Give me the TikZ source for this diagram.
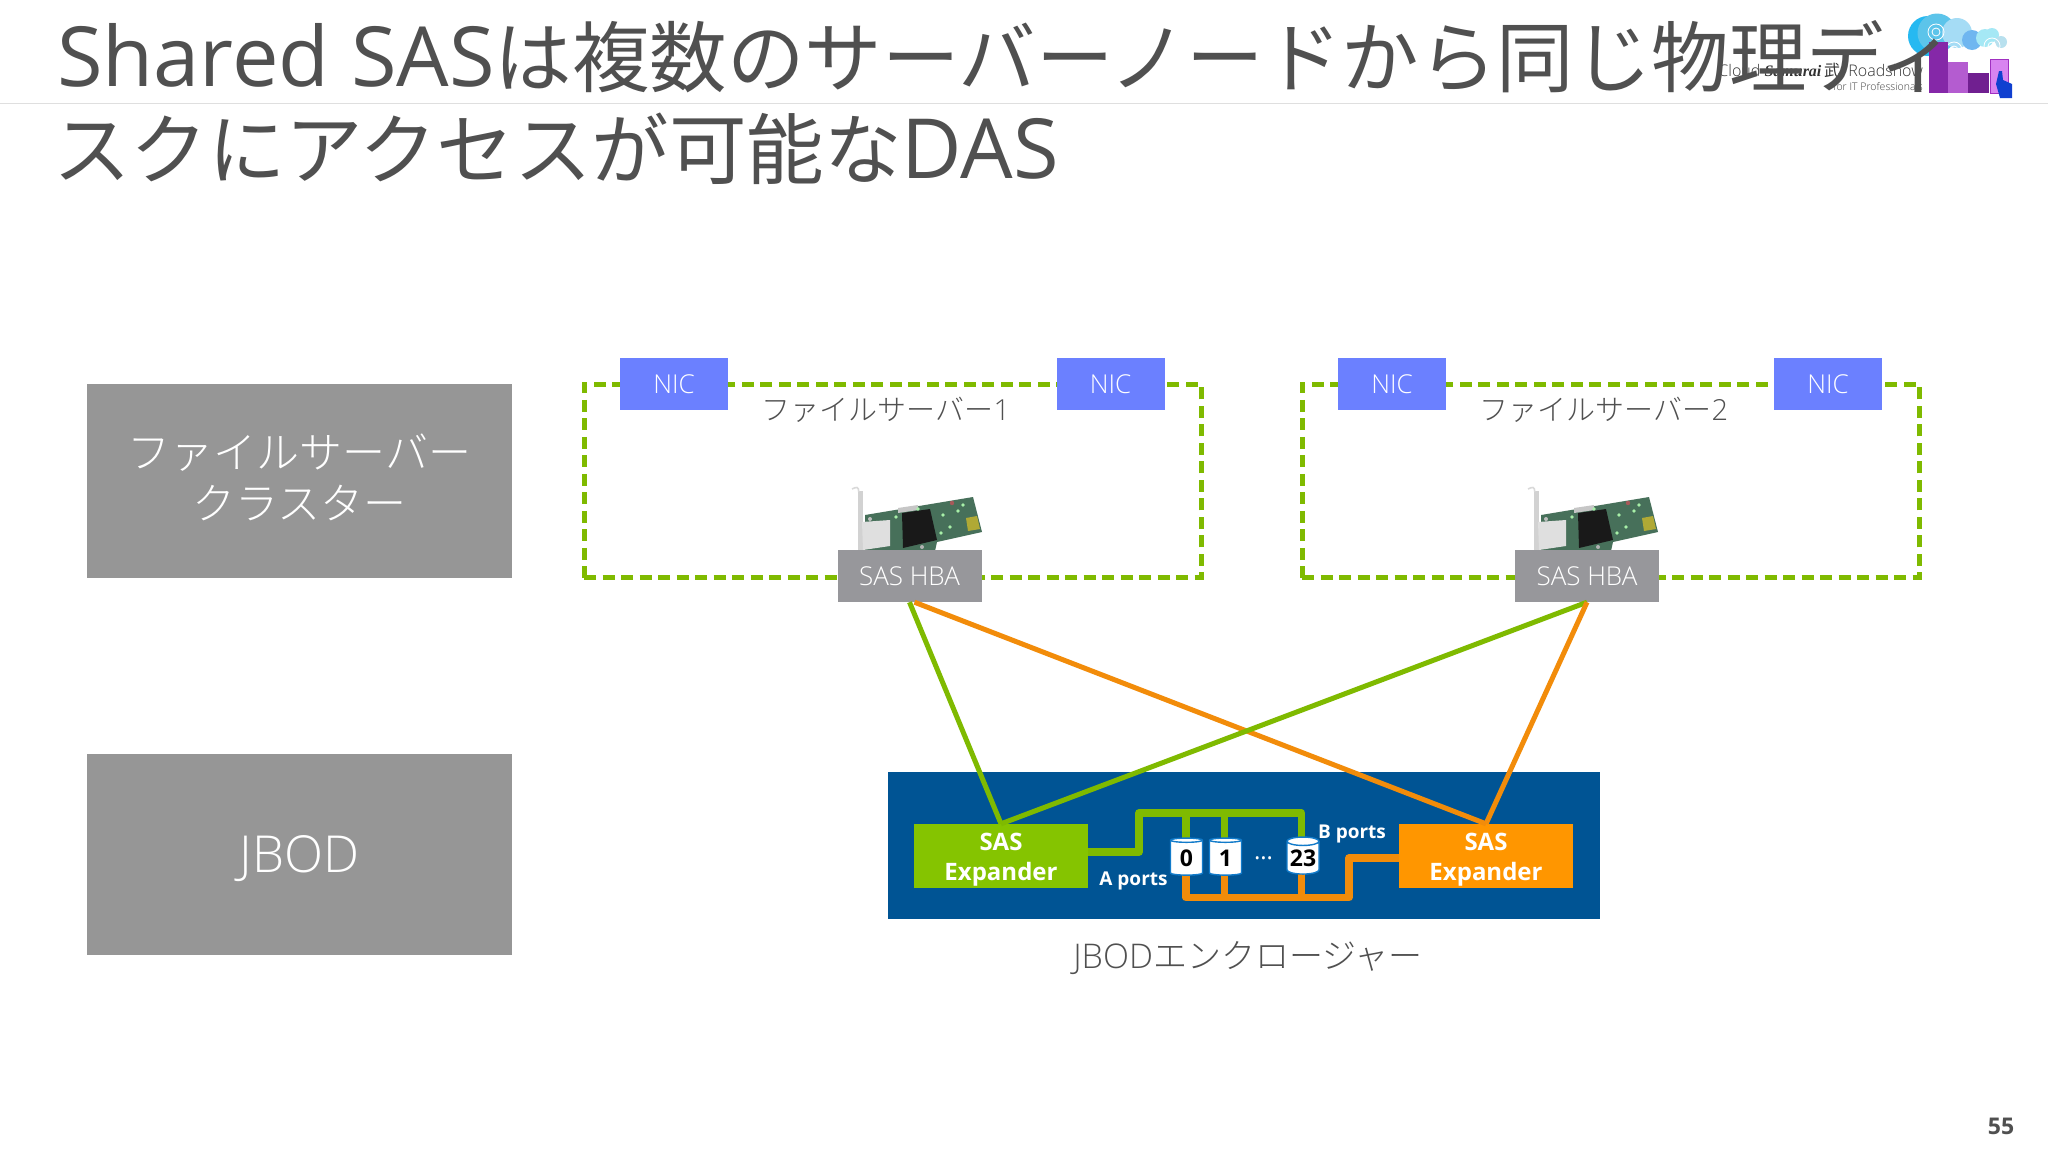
\documentclass[tikz,border=0pt]{standalone}
\usepackage{fontspec}
\setmainfont{Open Sans}
\newfontfamily\latl{Open Sans Light}
\newfontfamily\jpl{Noto Sans CJK JP Light}
\newfontfamily\jpn{Noto Sans CJK JP}
\newfontfamily\ser{Liberation Serif}
\usetikzlibrary{shapes.geometric}

\definecolor{ink}{HTML}{505050}
\definecolor{grn}{HTML}{7FBA00}
\definecolor{org}{HTML}{F28C0A}
\definecolor{grnbox}{HTML}{85C400}
\definecolor{orgbox}{HTML}{FF9600}
\definecolor{bluebox}{HTML}{005494}
\definecolor{nicblue}{HTML}{6B80FF}
\definecolor{sidegray}{HTML}{969696}
\definecolor{hbagray}{HTML}{97979B}
\definecolor{board}{HTML}{47705A}
\definecolor{cloudA}{HTML}{5CC4EA}
\definecolor{cloudB}{HTML}{A5DCF5}
\definecolor{cloudC}{HTML}{6FB6F0}
\definecolor{cloudD}{HTML}{A5E8F5}
\definecolor{cloudE}{HTML}{B8E0EE}
\definecolor{bldA}{HTML}{8528A8}
\definecolor{bldB}{HTML}{B45CD0}
\definecolor{bldC}{HTML}{701F90}
\definecolor{bldD}{HTML}{D884F0}
\definecolor{bldE}{HTML}{A030C0}
\definecolor{hand}{HTML}{1040D0}

\newcommand{\fs}[1]{\fontsize{#1}{#1}\selectfont}
% shifts a text without changing the size of its node
\newcommand{\shifted}[2]{\raisebox{#1}[\height][\depth]{#2}}

\tikzset{
  x=1pt, y=-1pt,
  title/.style={anchor=base west, inner sep=0pt, text=ink},
  side/.style={fill=sidegray, text=white, minimum width=424.5pt, align=center, inner sep=0pt, font=\jpl\fs{43}},
  server/.style={draw=grn, line width=5pt, dash pattern=on 12pt off 6.5pt, minimum width=617pt, minimum height=193.5pt, inner sep=0pt},
  nic/.style={fill=nicblue, text=white, minimum width=108pt, minimum height=52pt, inner sep=0pt, font=\latl\fs{26}},
  hba/.style={fill=hbagray, text=white, minimum width=144pt, minimum height=52pt, inner sep=0pt, font=\latl\fs{26}},
  label/.style={text=ink, inner sep=0pt},
  expander/.style={minimum width=174pt, minimum height=64pt, align=center, inner sep=0pt, text=white, font=\bfseries\fs{24}},
  bus/.style={line width=7.5pt, line join=round},
  link/.style={line width=5pt},
  disk/.style={cylinder, shape border rotate=90, aspect=0.32, draw=cyan!60!blue, line width=1.4pt, fill=white, minimum width=32pt, minimum height=37pt, inner sep=0pt, text=black, font=\bfseries\fs{23}},
  port/.style={text=white, inner sep=0pt, font=\bfseries\fs{19}},
  card/.pic={
    \fill[gray!35] (0,0) -- (5,0) -- (5,74) -- (0,74) -- cycle;
    \draw[gray!30, line width=1.6pt] (0.8,1) .. controls (0.8,-5) and (-2,-4) .. (-6,-2);
    \fill[board] (7,24) -- (115,6) -- (124,41) -- (79,51) -- (77,60) -- (42,63) -- (7,60) -- cycle;
    \fill[gray!25] (4,31) -- (32,29) -- (32,55) -- (5,59) -- cycle;
    \fill[black!90] (44,22) -- (72,18) -- (79,49) -- (45,57) -- cycle;
    \fill[gray!45] (40,17) -- (60,14) -- (60,19) -- (40,22) -- cycle;
    \fill[olive!70!white] (108,27) -- (119,25) -- (122,38) -- (110,40) -- cycle;
    \fill[olive!70!yellow] (42,63) -- (76,60) -- (75,64) -- (42,67) -- cycle;
    \foreach \p in {(85,24),(92,36),(100,20),(105,14),(83,42),(60,18),(38,26)}
      \fill[gray!30!green!40!white] \p circle (1.8);
    \fill[red!30!gray] (94,12) circle (2.2);
    \fill[gray!50] (12,28) circle (2);
    \fill[gray!60] (64,56) circle (2);
  }
}

\begin{document}
\begin{tikzpicture}
  \useasboundingbox (0,0) rectangle (2048,1152);
  \fill[white] (0,0) rectangle (2048,1152);
  \draw[gray!25, line width=1.2pt] (0,103.5) -- (2048,103.5);

  % logo
  \fill[cyan!85!white] (1928,36) circle (20);
  \fill[cloudA] (1937,33) circle (19.5);
  \fill[cloudB] (1957,33) circle (15);
  \fill[cloudC] (1972,40) circle (10);
  \fill[cloudD] (1985,38) circle (9);
  \fill[cloudD] (1992,35) circle (7);
  \fill[cloudE] (2001,42) circle (6);
  \foreach \c/\r in {{(1936,32)}/4,{(1936,32)}/8,{(1954,50)}/4,{(1954,50)}/8,{(1992,46)}/4,{(1992,46)}/8}
    \draw[white, line width=.8pt] \c circle (\r);
  \fill[bldA] (1929,42) rectangle (1948,93);
  \fill[bldB] (1948,62) rectangle (1968,93);
  \fill[bldC] (1968,73) rectangle (1989,93);
  \filldraw[fill=bldD, draw=bldE, line width=1pt] (1990,59) rectangle (2008,93);
  \fill[hand] (1999,71) -- (2002,71) -- (2003,80) -- (2012,84) -- (2012,98) -- (2000,98) -- (1996,84) -- cycle;
  \node[anchor=base east, inner sep=0pt, text=black!80] (logo1) at (1923,76)
    {\fs{16}\latl Cloud \ser\itshape\bfseries Samurai\jpn\upshape\mdseries\,武\latl\ \ Roadshow};
  \node[anchor=base east, inner sep=0pt, text=black!75, font=\latl\fs{10.5}] (logo2) at (1923,90) {for IT Professionals};

  % title
  \node[title] (t1) at (57,86) {\fs{83}Shared SAS\jpn\fs{77.5}は複数のサーバーノードから同じ物理ディ};
  \node[title] (t2) at (53,178) {\jpn\fs{77.5}スクにアクセスが可能な\rmfamily\fs{83}DAS};

  % left column
  \node[side, minimum height=194pt] (cluster) at (299.5,481) {\shifted{4pt}{ファイルサーバー}\\[8pt]\shifted{4pt}{クラスター}};
  \node[side, minimum height=201pt] (jbodside) at (299.5,854) {\shifted{-5pt}{\latl\fs{51}JBOD}};

  % servers
  \node[server] (srv1) at (892.5,481) {};
  \node[server] (srv2) at (1610.5,481) {};
  \node[nic] (nic1a) at (674,384) {NIC};
  \node[nic] (nic1b) at (1110.5,384) {NIC};
  \node[nic] (nic2a) at (1392,384) {NIC};
  \node[nic] (nic2b) at (1828,384) {NIC};
  \node[label, font=\jpl\fs{29}] (lab1) at (886,410) {ファイルサーバー\latl 1};
  \node[label, font=\jpl\fs{29}] (lab2) at (1604,410) {ファイルサーバー\latl 2};
  \pic at (858,491) {card};
  \pic at (1534,491) {card};
  \node[hba] (hba1) at (909.5,576) {SAS HBA};
  \node[hba] (hba2) at (1587,576) {SAS HBA};

  % enclosure
  \node[fill=bluebox, minimum width=712pt, minimum height=147pt, inner sep=0pt] (encl) at (1244,845.5) {};
  \node[expander, fill=grnbox] (expl) at (1001,856) {\shifted{-4pt}{SAS}\\[6pt]\shifted{-4pt}{Expander}};
  \node[expander, fill=orgbox] (expr) at (1486,856) {\shifted{-4pt}{SAS}\\[6pt]\shifted{-4pt}{Expander}};
  \node[label, font=\jpl\fs{34}] (encllab) at (1248,958) {\latl JBOD\jpl エンクロージャー};

  % links between HBA and expanders
  \draw[link, grn] (hba1.south) -- (expl.north);
  \draw[link, org] ([xshift=5pt]hba1.south) -- (expr.north);
  \draw[link, grn] (hba2.south) -- (expl.north);
  \draw[link, org] (hba2.south) -- (expr.north);

  % disks and buses
  \coordinate (gout) at (1088,852);
  \coordinate (oout) at (1399,858);
  \draw[bus, grn] (gout) -| (1139,813) -| (1301.5,845);
  \draw[bus, grn] (1186,813) -- (1186,845);
  \draw[bus, grn] (1224.5,813) -- (1224.5,845);
  \draw[bus, org] (oout) -| (1349,897.5) -| (1186,870);
  \draw[bus, org] (1224.5,897.5) -- (1224.5,870);
  \draw[bus, org] (1301.5,897.5) -- (1301.5,870);
  \node[disk] (d0) at (1186.5,858) {0};
  \node[disk] (d1) at (1225.5,858) {1};
  \node[disk] (d23) at (1303,858) {23};
  \node[port, font=\fs{24}] (dots) at (1263.5,858) {\dots};
  \node[port] (aports) at (1133.5,881) {A ports};
  \node[port] (bports) at (1352,834) {B ports};

  % page number
  \node[inner sep=0pt, text=ink, font=\bfseries\fs{23}] (page) at (2001,1126) {55};
\end{tikzpicture}
\end{document}
